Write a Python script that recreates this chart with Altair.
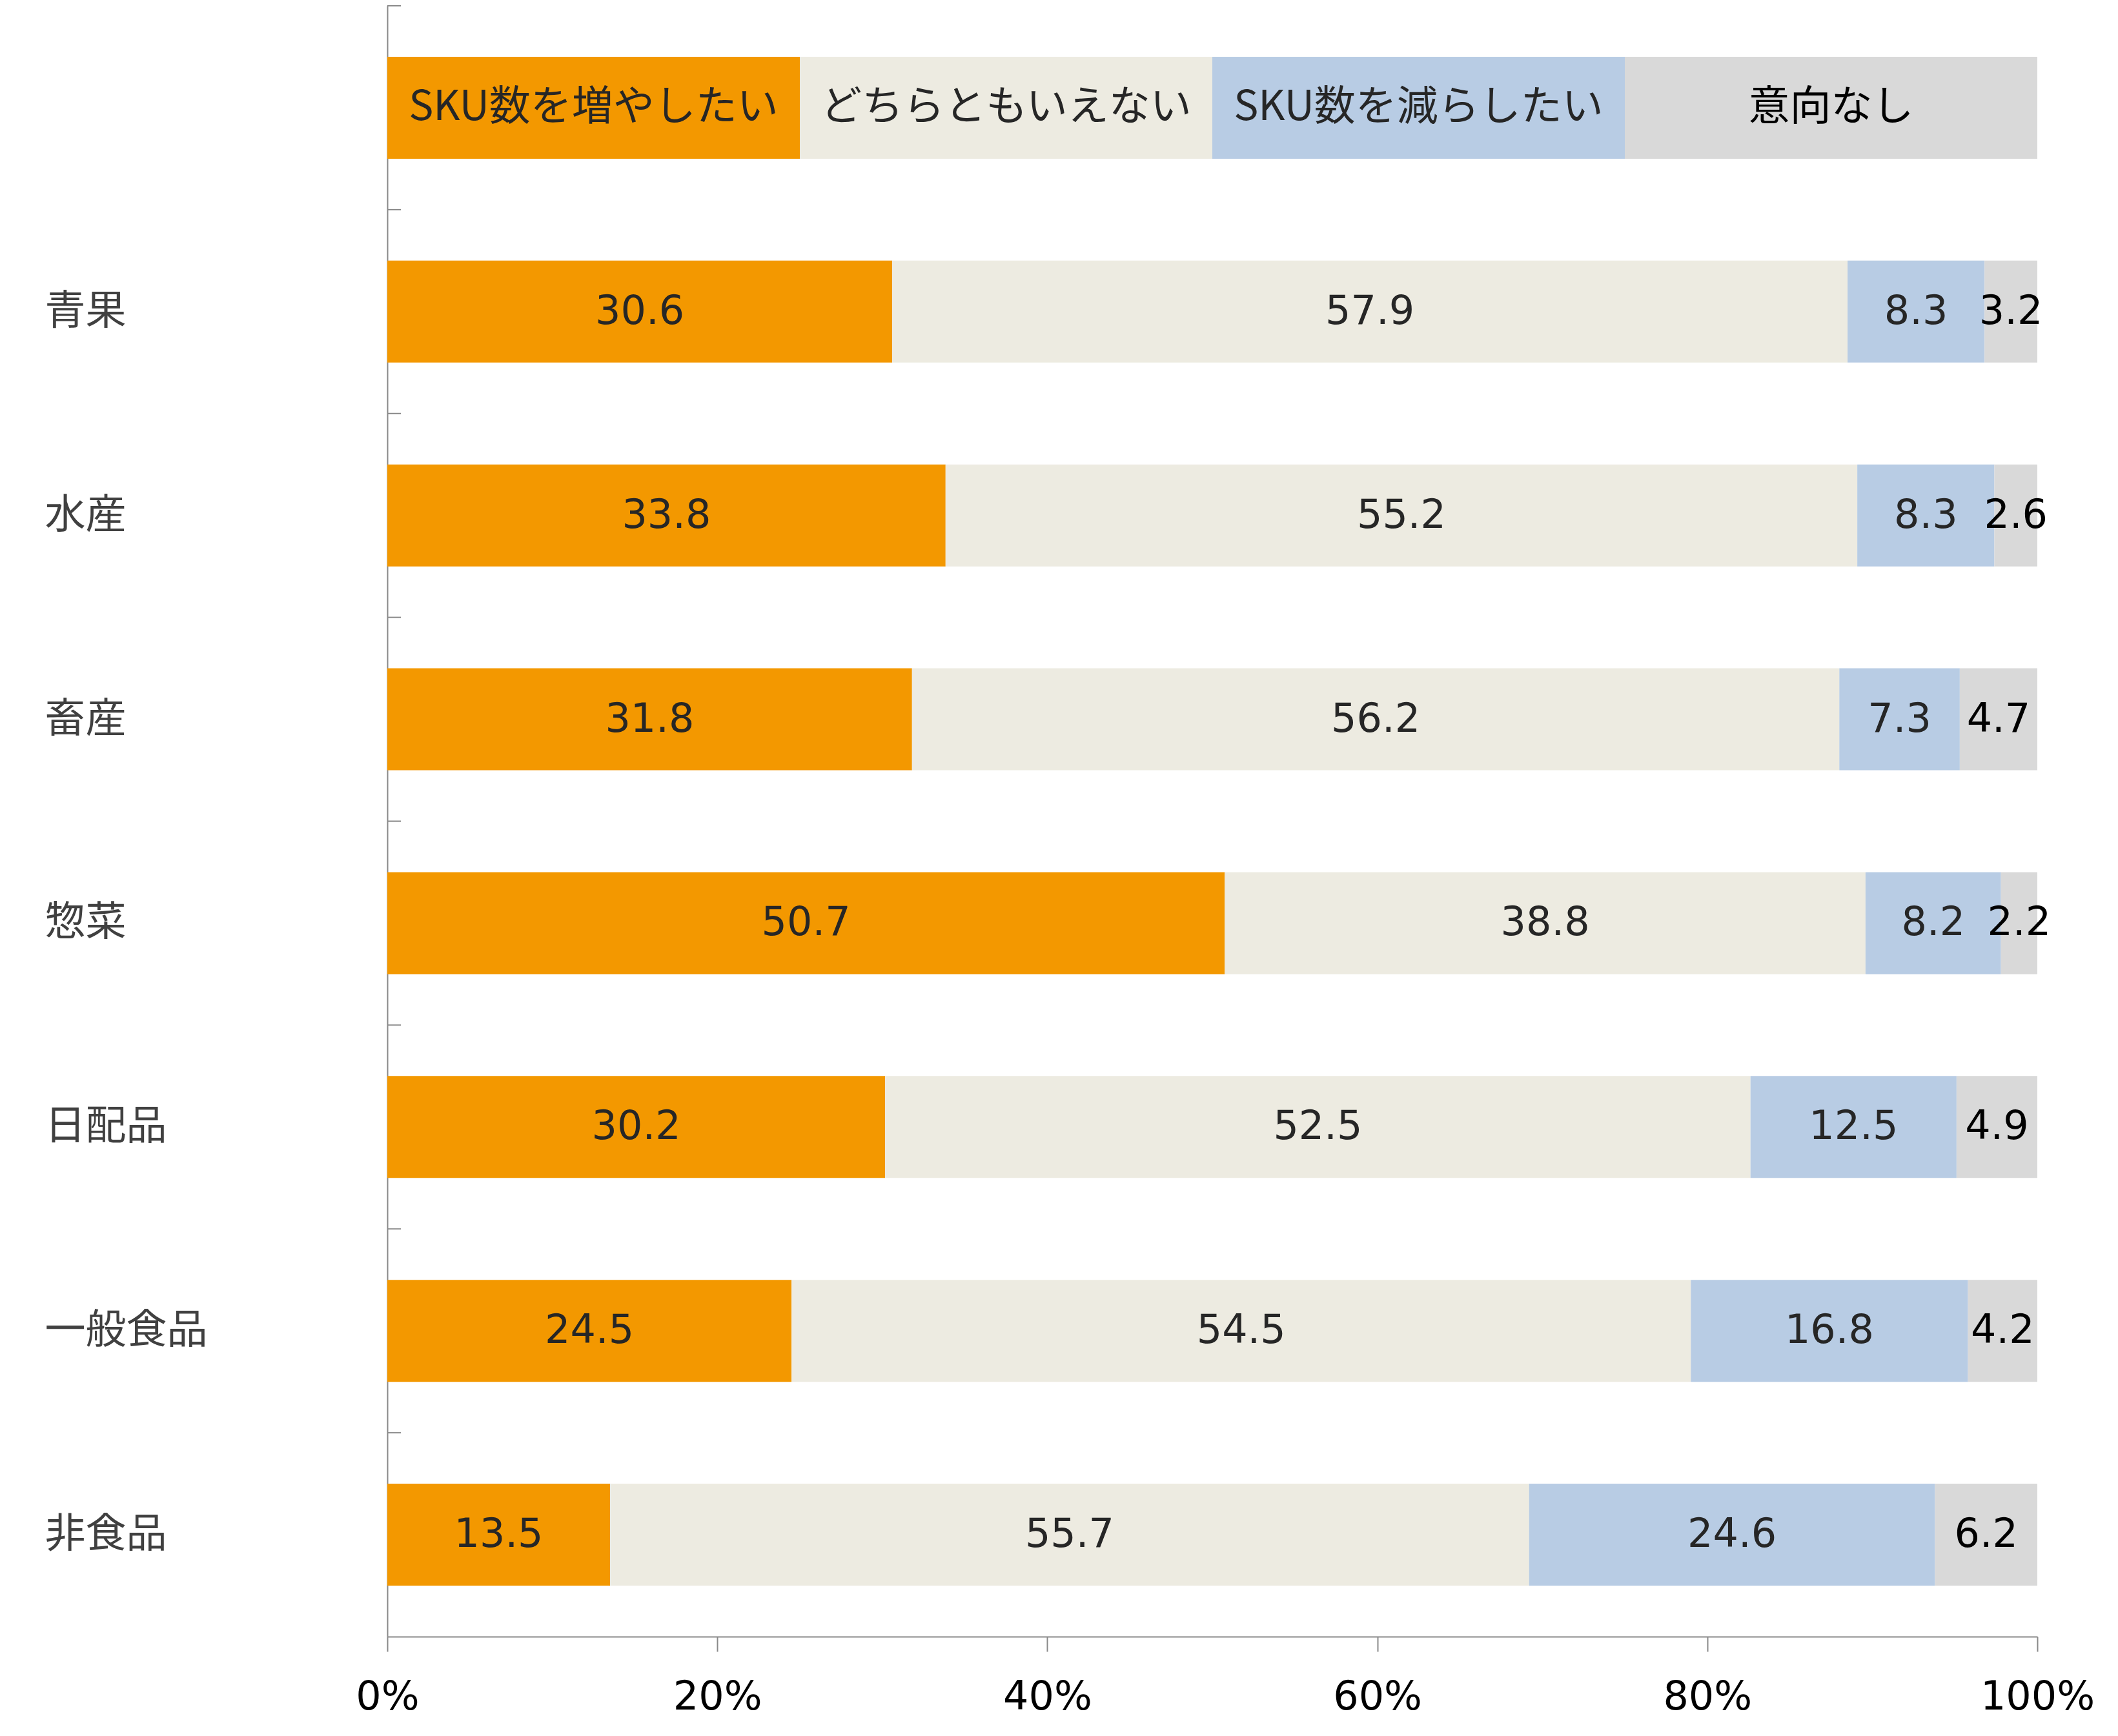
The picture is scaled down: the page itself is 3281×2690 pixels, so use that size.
import altair as alt
import pandas as pd

categories = ["青果", "水産", "畜産", "惣菜", "日配品", "一般食品", "非食品"]
series = ["SKU数を増やしたい", "どちらともいえない", "SKU数を減らしたい", "意向なし"]
increase = [30.6, 33.8, 31.8, 50.7, 30.2, 24.5, 13.5]
neutral = [57.9, 55.2, 56.2, 38.8, 52.5, 54.5, 55.7]
decrease = [8.3, 8.3, 7.3, 8.2, 12.5, 16.8, 24.6]
no_intent = [3.2, 2.6, 4.7, 2.2, 4.9, 4.2, 6.2]
legend_share = [25, 25, 25, 25]
colors = ["#F39800", "#EDEBE1", "#B8CCE4", "#D9D9D9"]
x_ticks = [0, 0.2, 0.4, 0.6, 0.8, 1.0]
legend_row = " "

rows = []
for i, s in enumerate(series):
    rows.append({"cat": legend_row, "series": s, "order": i, "value": legend_share[i],
                 "label": s, "kind": "legend"})
for i, (s, vals) in enumerate(zip(series, [increase, neutral, decrease, no_intent])):
    for c, v in zip(categories, vals):
        rows.append({"cat": c, "series": s, "order": i, "value": v,
                     "label": f"{v:.1f}", "kind": "data"})
df = pd.DataFrame(rows)
y_order = [legend_row] + categories

W, H = 2556, 2527
GRAY = "#898989"
y_axis = alt.Axis(labelAlign="left", labelPadding=531, ticks=False, tickSize=0,
                  domainColor=GRAY, domainWidth=2, labelFont="Noto Sans CJK JP",
                  labelFontSize=63, labelColor="#404040", labelLimit=700, title=None)
y_scale = alt.Scale(paddingInner=0.5, paddingOuter=0.25)


def yenc(**kw):
    return alt.Y("cat:N", sort=y_order, scale=y_scale, axis=y_axis, title=None, **kw)


base = alt.Chart(df).transform_stack(
    stack="value", groupby=["cat"], as_=["x0", "x1"], offset="normalize",
    sort=[alt.SortField("order", order="ascending")]
).transform_calculate(mid="(datum.x0 + datum.x1) / 2")

x_axis = alt.Axis(format="%", values=x_ticks, grid=False, tickSize=23, tickColor=GRAY,
                  tickWidth=2, domainColor=GRAY, domainWidth=2, labelFont="DejaVu Sans",
                  labelFontSize=62, labelColor="#000000", labelPadding=40,
                  labelFlush=False, labelOverlap=False, title=None)

bars = base.mark_bar().encode(
    y=yenc(),
    x=alt.X("x0:Q", scale=alt.Scale(domain=[0, 1], nice=False), axis=x_axis, title=None),
    x2="x1:Q",
    color=alt.Color("series:N", scale=alt.Scale(domain=series, range=colors), legend=None),
)

txt_color = alt.condition(alt.datum.series == "意向なし", alt.value("#000000"), alt.value("#262626"))

num_text = base.transform_filter(alt.datum.kind == "data").mark_text(
    font="DejaVu Sans", fontSize=62, align="center", baseline="middle"
).encode(y=yenc(), x=alt.X("mid:Q"), text="label:N", color=txt_color)

leg_text = base.transform_filter(alt.datum.kind == "legend").mark_text(
    font="Noto Sans CJK JP", fontSize=64, align="center", baseline="middle"
).encode(y=yenc(), x=alt.X("mid:Q"), text="label:N", color=txt_color)

# inside ticks at band boundaries (quarter step above each bar's top)
tick_df = pd.DataFrame({"cat": y_order})
yticks = alt.Chart(tick_df).mark_rule(color=GRAY, strokeWidth=2, yOffset=-H / 8 * 0.25).encode(
    y=yenc(bandPosition=0), x=alt.value(0), x2=alt.value(21)
)

chart = alt.layer(bars, num_text, leg_text, yticks).properties(
    width=W, height=H,
    padding={"left": 61, "top": 0, "right": 10, "bottom": 14},
).configure_view(strokeWidth=0)

chart.save("out.html", embed_options={"renderer": "svg", "actions": False})
